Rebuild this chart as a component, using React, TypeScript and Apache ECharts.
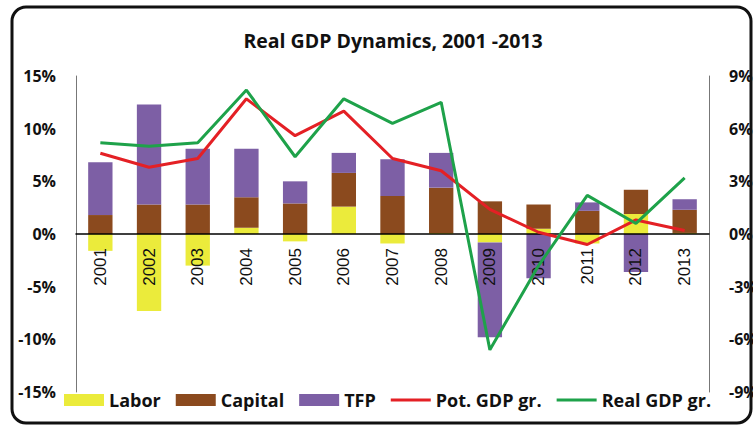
import React, { useEffect, useRef } from "react";
import * as echarts from "echarts";

const years = ["2001", "2002", "2003", "2004", "2005", "2006", "2007", "2008", "2009", "2010", "2011", "2012", "2013"];
const labor = [-1.6, -7.3, -3.0, 0.6, -0.7, 2.6, -0.9, 0.1, -0.8, 0.5, -0.9, 1.9, 0.1];
const capital = [1.8, 2.8, 2.8, 2.9, 2.9, 3.2, 3.6, 4.3, 3.1, 2.3, 2.2, 2.3, 2.2];
const tfp = [5.0, 9.5, 5.3, 4.6, 2.1, 1.9, 3.5, 3.3, -9.0, -4.2, 0.8, -3.6, 1.0];
const potGdp = [4.6, 3.8, 4.3, 7.7, 5.6, 7.0, 4.3, 3.6, 1.4, 0.1, -0.6, 0.8, 0.2];
const realGdp = [5.2, 5.0, 5.2, 8.2, 4.4, 7.7, 6.3, 7.5, -6.6, -1.8, 2.2, 0.6, 3.2];

const FONT = "Open Sans";
const LINE_ICON = "path://M0 0H40V3H0Z";
const GRID_TOP = 76;
const GRID_BOTTOM = 33;
const CHART_H = 425;

export default function App() {
  const ref = useRef<HTMLDivElement>(null);
  useEffect(() => {
    if (!ref.current) return;
    const chart = echarts.init(ref.current, undefined, { renderer: "svg" });
    const gridH = CHART_H - GRID_TOP - GRID_BOTTOM;
    chart.setOption({
      animation: false,
      backgroundColor: "#ffffff",
      title: {
        text: "Real GDP Dynamics, 2001 -2013",
        left: 388,
        top: 25,
        textAlign: "center",
        textStyle: { fontFamily: FONT, fontSize: 19.5, fontWeight: "bold", color: "#111" },
      },
      legend: {
        left: 59,
        top: 386,
        itemWidth: 40,
        itemHeight: 12,
        itemGap: 15,
        textStyle: { fontFamily: FONT, fontSize: 18, fontWeight: "bold", color: "#111" },
        data: [
          { name: "Labor", icon: "rect" },
          { name: "Capital", icon: "rect" },
          { name: "TFP", icon: "rect" },
          { name: "Pot. GDP gr.", icon: LINE_ICON },
          { name: "Real GDP gr.", icon: LINE_ICON },
        ],
      },
      grid: { left: 76, right: 44, top: GRID_TOP, bottom: GRID_BOTTOM, containLabel: false, outerBoundsMode: "none" },
      xAxis: {
        type: "category",
        data: years,
        position: "bottom",
        offset: -gridH / 2,
        z: 2,
        axisLine: { onZero: false, lineStyle: { color: "#000", width: 1.5 } },
        axisTick: { show: false },
        axisLabel: { rotate: 90, margin: 14, fontFamily: "Liberation Sans", fontSize: 17, color: "#111" },
      },
      yAxis: [
        {
          type: "value",
          min: -15,
          max: 15,
          interval: 5,
          axisLine: { show: true, onZero: false, lineStyle: { color: "#777", width: 1 } },
          axisTick: { show: false },
          splitLine: { show: false },
          axisLabel: { formatter: "{value}%", margin: 20, fontFamily: FONT, fontSize: 16, fontWeight: "bold", color: "#111" },
        },
        {
          type: "value",
          min: -9,
          max: 9,
          interval: 3,
          axisLine: { show: true, onZero: false, lineStyle: { color: "#777", width: 1 } },
          axisTick: { show: false },
          splitLine: { show: false },
          axisLabel: { formatter: "{value}%", margin: 20, fontFamily: FONT, fontSize: 16, fontWeight: "bold", color: "#111" },
        },
      ],
      series: [
        { name: "Labor", type: "bar", stack: "g", barWidth: "50%", z: 1, data: labor, itemStyle: { color: "#ebeb3b" } },
        { name: "Capital", type: "bar", stack: "g", z: 1, data: capital, itemStyle: { color: "#8b4a1e" } },
        { name: "TFP", type: "bar", stack: "g", z: 1, data: tfp, itemStyle: { color: "#7d5fa5" } },
        { name: "Pot. GDP gr.", type: "line", yAxisIndex: 1, data: potGdp, symbol: "none", z: 3, lineStyle: { color: "#e42025", width: 3 }, itemStyle: { color: "#e42025" } },
        { name: "Real GDP gr.", type: "line", yAxisIndex: 1, data: realGdp, symbol: "none", z: 3, lineStyle: { color: "#1ea24a", width: 3 }, itemStyle: { color: "#1ea24a" } },
      ],
      graphic: [
        {
          type: "rect",
          shape: { x: 12, y: 7, width: 739, height: 416, r: 14 },
          style: { fill: "none", stroke: "#111", lineWidth: 3 },
          silent: true,
        },
      ],
    });
    return () => chart.dispose();
  }, []);
  return <div ref={ref} style={{ position: "absolute", left: 0, top: 0, width: 753, height: 425 }} />;
}
